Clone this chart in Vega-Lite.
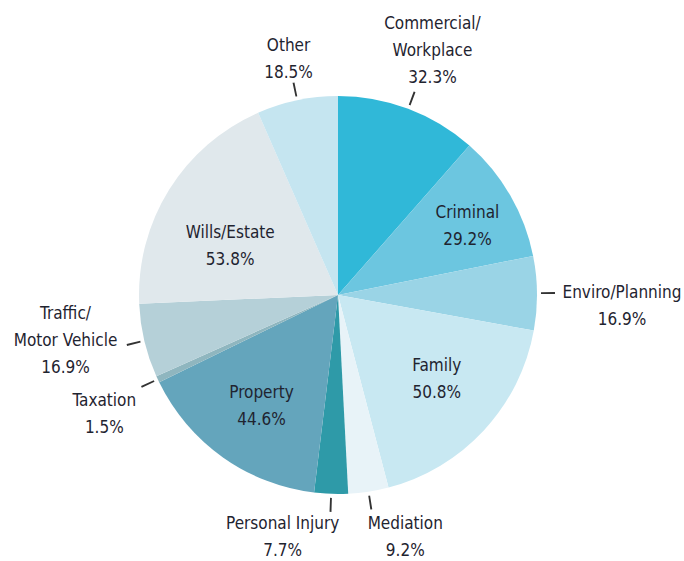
{
  "$schema": "https://vega.github.io/schema/vega-lite/v6.json",
  "width": 676,
  "height": 532,
  "autosize": {"type": "none"},
  "padding": {"left": 0, "top": 29, "right": 8, "bottom": 0},
  "background": "white",
  "view": {"stroke": null},
  "config": {"text": {"font": "DejaVu Sans Condensed, Roboto, sans-serif", "fontSize": 17, "lineHeight": 27, "lineBreak": "\n", "color": "#1f2430", "baseline": "middle", "align": "center"}},
  "data": {"values": [
    {"i": 1, "cat": "Commercial/\nWorkplace", "v": 32.3},
    {"i": 2, "cat": "Criminal", "v": 29.2},
    {"i": 3, "cat": "Enviro/Planning", "v": 16.9},
    {"i": 4, "cat": "Family", "v": 50.8},
    {"i": 5, "cat": "Mediation", "v": 9.2},
    {"i": 6, "cat": "Personal Injury", "v": 7.7},
    {"i": 7, "cat": "Property", "v": 44.6},
    {"i": 8, "cat": "Taxation", "v": 1.5},
    {"i": 9, "cat": "Traffic/\nMotor Vehicle", "v": 16.9},
    {"i": 10, "cat": "Wills/Estate", "v": 53.8},
    {"i": 11, "cat": "Other", "v": 18.5}
  ]},
  "transform": [
    {"window": [{"op": "sum", "field": "v", "as": "cum"}], "sort": [{"field": "i"}], "frame": [null, 0]},
    {"calculate": "datum.cum - datum.v", "as": "start"},
    {"calculate": "datum.cum - datum.v / 2", "as": "mid"},
    {"calculate": "datum.mid - 0.2", "as": "t0"},
    {"calculate": "datum.mid + 0.2", "as": "t1"},
    {"calculate": "datum.cat + '\\n' + format(datum.v, '.1f') + '%'", "as": "txt"}
  ],
  "layer": [
    {
      "mark": {"type": "arc", "radius": 199, "stroke": null},
      "encoding": {
        "theta": {"field": "start", "type": "quantitative", "stack": null, "scale": {"domain": [0, 281.4]}},
        "theta2": {"field": "cum"},
        "color": {
          "field": "cat", "type": "nominal", "legend": null,
          "scale": {
            "domain": ["Commercial/\nWorkplace", "Criminal", "Enviro/Planning", "Family", "Mediation", "Personal Injury", "Property", "Taxation", "Traffic/\nMotor Vehicle", "Wills/Estate", "Other"],
            "range": ["#30b8d8", "#6cc6e0", "#9ad4e6", "#c8e8f2", "#e8f3f8", "#2e9aa8", "#64a5bc", "#8fb6bf", "#b5d0d8", "#e0e8ec", "#c5e5f0"]
          }
        }
      }
    },
    {
      "transform": [{"filter": "indexof([1,3,5,6,8,9,11], datum.i) >= 0"}],
      "mark": {"type": "arc", "innerRadius": 203, "outerRadius": 217, "color": "#333333"},
      "encoding": {
        "theta": {"field": "t0", "type": "quantitative", "stack": null},
        "theta2": {"field": "t1"}
      }
    },
    {
      "transform": [{"filter": "datum.i == 2"}],
      "mark": {"type": "text", "radius": 146, "dx": 3, "dy": -9},
      "encoding": {"theta": {"field": "mid", "type": "quantitative", "stack": null}, "text": {"field": "txt"}}
    },
    {
      "transform": [{"filter": "datum.i == 4"}],
      "mark": {"type": "text", "radius": 125, "dx": 7, "dy": -14},
      "encoding": {"theta": {"field": "mid", "type": "quantitative", "stack": null}, "text": {"field": "txt"}}
    },
    {
      "transform": [{"filter": "datum.i == 7"}],
      "mark": {"type": "text", "radius": 125, "dx": -4, "dy": -4},
      "encoding": {"theta": {"field": "mid", "type": "quantitative", "stack": null}, "text": {"field": "txt"}}
    },
    {
      "transform": [{"filter": "datum.i == 10"}],
      "mark": {"type": "text", "radius": 120, "dx": -6, "dy": 1},
      "encoding": {"theta": {"field": "mid", "type": "quantitative", "stack": null}, "text": {"field": "txt"}}
    },
    {
      "transform": [{"filter": "datum.i == 1"}],
      "mark": {"type": "text", "radius": 262, "dx": 2, "dy": -26},
      "encoding": {"theta": {"field": "mid", "type": "quantitative", "stack": null}, "text": {"field": "txt"}}
    },
    {
      "transform": [{"filter": "datum.i == 11"}],
      "mark": {"type": "text", "radius": 241, "dy": -13},
      "encoding": {"theta": {"field": "mid", "type": "quantitative", "stack": null}, "text": {"field": "txt"}}
    },
    {
      "transform": [{"filter": "datum.i == 3"}],
      "mark": {"type": "text", "radius": 284, "dy": 1},
      "encoding": {"theta": {"field": "mid", "type": "quantitative", "stack": null}, "text": {"field": "txt"}}
    },
    {
      "transform": [{"filter": "datum.i == 9"}],
      "mark": {"type": "text", "radius": 280, "dy": -45},
      "encoding": {"theta": {"field": "mid", "type": "quantitative", "stack": null}, "text": {"field": "txt"}}
    },
    {
      "transform": [{"filter": "datum.i == 8"}],
      "mark": {"type": "text", "radius": 258, "dy": -3},
      "encoding": {"theta": {"field": "mid", "type": "quantitative", "stack": null}, "text": {"field": "txt"}}
    },
    {
      "transform": [{"filter": "datum.i == 6"}],
      "mark": {"type": "text", "radius": 241, "dx": -47, "dy": -12},
      "encoding": {"theta": {"field": "mid", "type": "quantitative", "stack": null}, "text": {"field": "txt"}}
    },
    {
      "transform": [{"filter": "datum.i == 5"}],
      "mark": {"type": "text", "radius": 243, "dx": 30, "dy": -11},
      "encoding": {"theta": {"field": "mid", "type": "quantitative", "stack": null}, "text": {"field": "txt"}}
    }
  ]
}
